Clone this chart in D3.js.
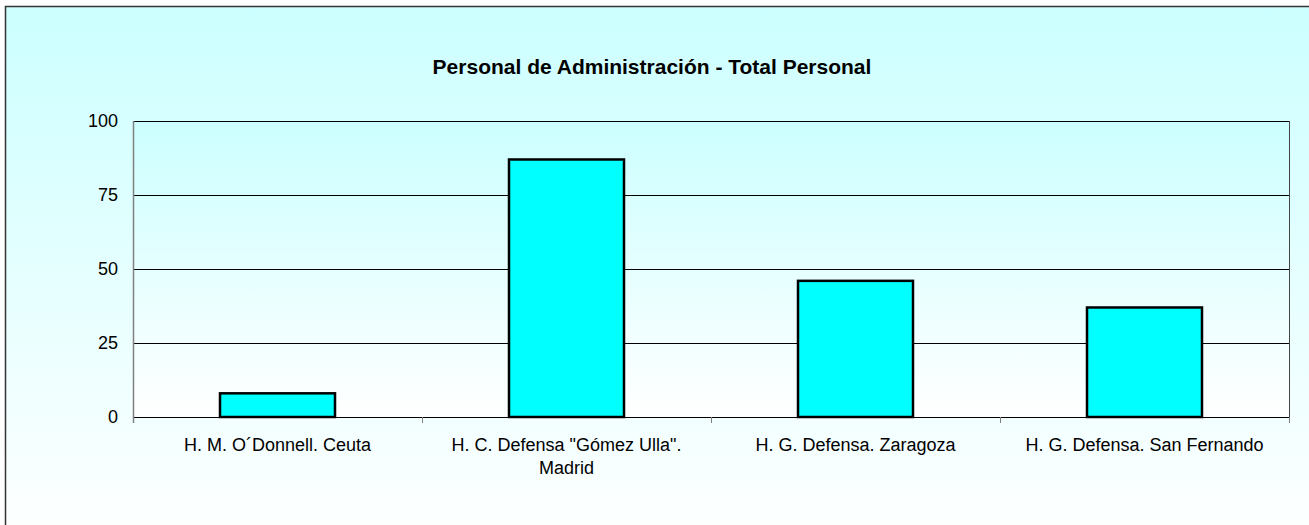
<!DOCTYPE html>
<html>
<head>
<meta charset="utf-8">
<script src="https://cdn.jsdelivr.net/npm/d3@7"></script>
<style>
html,body{margin:0;padding:0;background:#fff;overflow:hidden;}
svg{display:block;}
text{font-family:"Liberation Sans",Arial,sans-serif;fill:#000;}
</style>
</head>
<body>
<script>
const title = "Personal de Administración - Total Personal";
const categories = [
  ["H. M. O´Donnell. Ceuta"],
  ["H. C. Defensa \"Gómez Ulla\".", "Madrid"],
  ["H. G. Defensa. Zaragoza"],
  ["H. G. Defensa. San Fernando"]
];
const values = [8, 87, 46, 37];
const yTicks = [0, 25, 50, 75, 100];

const W = 1309, H = 525;
const plot = {left: 133, top: 121, right: 1289, bottom: 417};

const svg = d3.select("body").append("svg").attr("width", W).attr("height", H);
const defs = svg.append("defs");
const g1 = defs.append("linearGradient").attr("id","bgOuter").attr("x1",0).attr("y1",0).attr("x2",0).attr("y2",1);
g1.append("stop").attr("offset","0%").attr("stop-color","#CCFFFF");
g1.append("stop").attr("offset","100%").attr("stop-color","#FFFFFF");
const g2 = defs.append("linearGradient").attr("id","bgPlot").attr("x1",0).attr("y1",0).attr("x2",0).attr("y2",1);
g2.append("stop").attr("offset","0%").attr("stop-color","#CCFFFF");
g2.append("stop").attr("offset","100%").attr("stop-color","#FFFFFF");

// outer frame
svg.append("rect").attr("x",5.5).attr("y",6.5).attr("width",1320).attr("height",540)
  .attr("fill","url(#bgOuter)").attr("stroke","#333").attr("stroke-width",1.5);

const x = d3.scaleBand().domain(d3.range(categories.length)).range([plot.left, plot.right]).paddingInner(0).paddingOuter(0);
const y = d3.scaleLinear().domain([0, 100]).range([plot.bottom, plot.top]);

// plot area
svg.append("rect").attr("x",plot.left).attr("y",plot.top)
  .attr("width",plot.right-plot.left).attr("height",plot.bottom-plot.top)
  .attr("fill","url(#bgPlot)");

// gridlines
svg.append("g").selectAll("line").data(yTicks.filter(d=>d>0)).join("line")
  .attr("x1",plot.left).attr("x2",plot.right)
  .attr("y1",d=>Math.round(y(d))+0.5).attr("y2",d=>Math.round(y(d))+0.5)
  .attr("stroke","#000").attr("stroke-width",1);

// right border
svg.append("line").attr("x1",plot.right+0.5).attr("x2",plot.right+0.5)
  .attr("y1",plot.top).attr("y2",plot.bottom).attr("stroke","#444");

// bars
const bw = 115;
svg.append("g").selectAll("rect").data(values).join("rect")
  .attr("x",(d,i)=>x(i)+x.bandwidth()/2-bw/2)
  .attr("y",d=>y(d))
  .attr("width",bw)
  .attr("height",d=>y(0)-y(d))
  .attr("fill","#00FFFF").attr("stroke","#000").attr("stroke-width",2.5);

// x axis
const xAxisG = svg.append("g");
xAxisG.append("line").attr("x1",plot.left).attr("x2",plot.right)
  .attr("y1",plot.bottom+0.5).attr("y2",plot.bottom+0.5).attr("stroke","#000");
xAxisG.selectAll("line.tick").data(d3.range(categories.length+1)).join("line")
  .attr("class","tick")
  .attr("x1",i=>Math.round(plot.left + i*x.bandwidth())+0.5)
  .attr("x2",i=>Math.round(plot.left + i*x.bandwidth())+0.5)
  .attr("y1",plot.bottom).attr("y2",plot.bottom+6)
  .attr("stroke","#808080");

// y axis line
svg.append("line").attr("x1",plot.left+0.5).attr("x2",plot.left+0.5)
  .attr("y1",plot.top).attr("y2",plot.bottom+6).attr("stroke","#808080").attr("stroke-width",1.5);

// y labels
svg.append("g").selectAll("text").data(yTicks).join("text")
  .attr("x",118).attr("y",d=>y(d)).attr("dy","0.35em")
  .attr("text-anchor","end").style("font-size","18px").text(d=>d);

// x labels
svg.append("g").selectAll("text").data(categories).join("text")
  .attr("text-anchor","middle").style("font-size","18px")
  .attr("transform",(d,i)=>`translate(${x(i)+x.bandwidth()/2},451)`)
  .each(function(d){
    d3.select(this).selectAll("tspan").data(d).join("tspan")
      .attr("x",0).attr("dy",(t,j)=>j===0?0:23).text(t=>t);
  });

// title
svg.append("text").attr("x",652).attr("y",74).attr("text-anchor","middle")
  .style("font-size","21px").style("font-weight","bold").text(title);
</script>
</body>
</html>
